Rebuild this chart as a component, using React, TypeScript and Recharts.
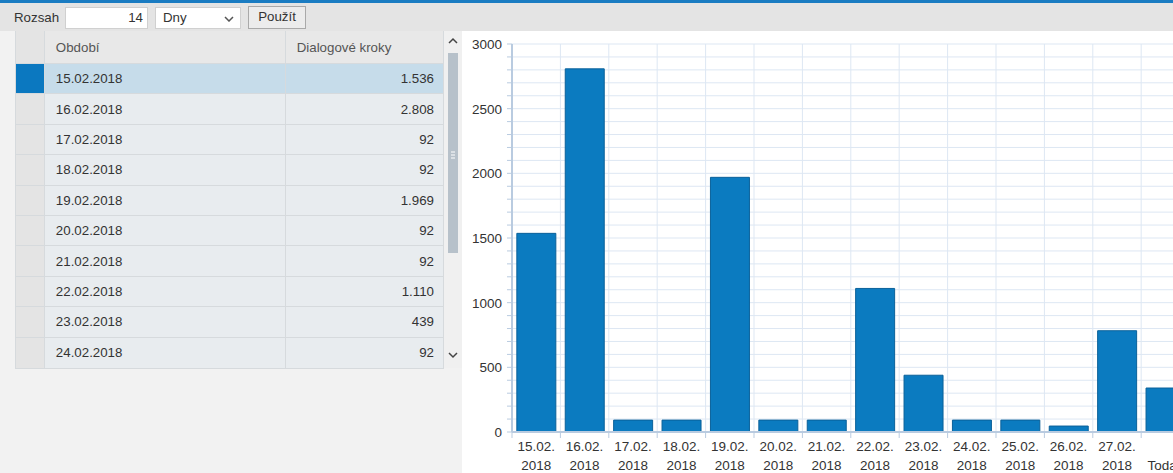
import React from 'react'
import { BarChart, Bar, XAxis, YAxis, CartesianGrid } from 'recharts'

const categories = [
  '15.02.2018', '16.02.2018', '17.02.2018', '18.02.2018', '19.02.2018',
  '20.02.2018', '21.02.2018', '22.02.2018', '23.02.2018', '24.02.2018',
  '25.02.2018', '26.02.2018', '27.02.2018', 'Today',
]
const dialogSteps = [1536, 2808, 92, 92, 1969, 92, 92, 1110, 439, 92, 92, 46, 783, 340]

// table shows only the first 10 rows (scrolled)
const tableDates = categories.slice(0, 10)
const tableValues = ['1.536', '2.808', '92', '92', '1.969', '92', '92', '1.110', '439', '92']

const yTicks = [
  0, 100, 200, 300, 400, 500, 600, 700, 800, 900, 1000, 1100, 1200, 1300, 1400, 1500,
  1600, 1700, 1800, 1900, 2000, 2100, 2200, 2300, 2400, 2500, 2600, 2700, 2800, 2900, 3000,
]
const yLabelStep = 500

const data = categories.map((c, i) => ({ name: c, value: dialogSteps[i] }))

const FONT = 'Arial, "Liberation Sans", sans-serif'
const AXIS_FS = 13.5
const CAT_W = 48.4
const Y_AXIS_W = 50
const CHART_W = Y_AXIS_W + CAT_W * categories.length
const CHART_H = 442

const YTick = (props: any) => {
  const { x, y, payload } = props
  if (payload.value % yLabelStep !== 0) return null
  return (
    <text x={x - 3} y={y + 5} textAnchor="end" fontSize={AXIS_FS} fill="#333" fontFamily={FONT}>
      {payload.value}
    </text>
  )
}

const XTick = (props: any) => {
  const { x, y, payload } = props
  const label: string = payload.value
  const lines = label.length === 10 ? [label.slice(0, 6), label.slice(6)] : [label]
  const bx = x - CAT_W / 2
  return (
    <g>
      <line x1={bx} x2={bx} y1={y - 8} y2={y - 2} stroke="#b9cbe0" />
      {lines.length === 2 ? (
        <>
          <text x={x} y={y + 11} textAnchor="middle" fontSize={AXIS_FS} fill="#333" fontFamily={FONT}>{lines[0]}</text>
          <text x={x} y={y + 30} textAnchor="middle" fontSize={AXIS_FS} fill="#333" fontFamily={FONT}>{lines[1]}</text>
        </>
      ) : (
        <text x={x} y={y + 30} textAnchor="middle" fontSize={AXIS_FS} fill="#333" fontFamily={FONT}>{lines[0]}</text>
      )}
    </g>
  )
}

export default function App() {
  const cell: React.CSSProperties = {
    boxSizing: 'border-box',
    borderRight: '1px solid #d6dadd',
    display: 'flex',
    alignItems: 'center',
  }

  return (
    <div style={{ position: 'absolute', left: 0, top: 0, width: 1173, height: 473, overflow: 'hidden', background: '#f2f2f2', fontFamily: FONT, fontSize: 13.3, color: '#333' }}>
      {/* top bar */}
      <div style={{ position: 'absolute', left: 0, top: 0, width: 1173, height: 3, background: '#1a7cc2' }} />
      <div style={{ position: 'absolute', left: 0, top: 3, width: 1173, height: 28, background: '#e4e4e4' }} />
      <div style={{ position: 'absolute', left: 14, top: 10 }}>Rozsah</div>
      <div style={{ position: 'absolute', left: 65, top: 7, width: 83, height: 22, boxSizing: 'border-box', background: '#fff', border: '1px solid #d0d0d0', textAlign: 'right', paddingRight: 4, lineHeight: '20px' }}>14</div>
      <div style={{ position: 'absolute', left: 155, top: 7, width: 86, height: 22, boxSizing: 'border-box', background: '#fff', border: '1px solid #d0d0d0', paddingLeft: 7, lineHeight: '20px' }}>
        Dny
        <svg width={10} height={6} style={{ position: 'absolute', right: 6, top: 8 }}>
          <polyline points="1,1 5,5 9,1" fill="none" stroke="#555" strokeWidth={1.5} />
        </svg>
      </div>
      <div style={{ position: 'absolute', left: 248, top: 6, width: 58, height: 23, boxSizing: 'border-box', background: '#ececec', border: '1px solid #a9a9a9', textAlign: 'center', lineHeight: '20px' }}>Použít</div>

      {/* table */}
      <div style={{ position: 'absolute', left: 15, top: 31, width: 429, border: '1px solid #d6dadd', borderTop: 'none', boxSizing: 'border-box' }}>
        <div style={{ display: 'flex', height: 33, background: '#e8e8e8', borderBottom: '1px solid #d6dadd', boxSizing: 'border-box', color: '#555' }}>
          <div style={{ ...cell, width: 29, background: '#e4e4e4' }} />
          <div style={{ ...cell, width: 242, paddingLeft: 11 }}>Období</div>
          <div style={{ ...cell, width: 158, paddingLeft: 11, borderRight: 'none' }}>Dialogové kroky</div>
        </div>
        {tableDates.map((d, i) => {
          const sel = i === 0
          return (
            <div key={d} style={{ display: 'flex', height: 30.4, background: sel ? '#c6dcea' : '#e8ecef', borderBottom: i < 9 ? '1px solid #d6dadd' : 'none', boxSizing: 'border-box' }}>
              <div style={{ ...cell, width: 29, background: sel ? '#0b78c0' : '#e4e4e4' }} />
              <div style={{ ...cell, width: 242, paddingLeft: 11 }}>{d}</div>
              <div style={{ ...cell, width: 158, paddingRight: 9, justifyContent: 'flex-end', borderRight: 'none' }}>{tableValues[i]}</div>
            </div>
          )
        })}
      </div>
      {/* scrollbar */}
      <div style={{ position: 'absolute', left: 444, top: 31, width: 18, height: 337, background: '#f0f0f0' }}>
        <svg width={18} height={337}>
          <polyline points="5,12 9,8 13,12" fill="none" stroke="#444" strokeWidth={1.5} />
          <rect x={4} y={22} width={10} height={200} fill="#b7c1ca" />
          <line x1={7} x2={11} y1={121} y2={121} stroke="#fff" />
          <line x1={7} x2={11} y1={124} y2={124} stroke="#fff" />
          <line x1={7} x2={11} y1={127} y2={127} stroke="#fff" />
          <polyline points="5,322 9,326 13,322" fill="none" stroke="#444" strokeWidth={1.5} />
        </svg>
      </div>

      {/* chart */}
      <div style={{ position: 'absolute', left: 462, top: 31, width: 711, height: 442, background: '#fff', overflow: 'hidden' }}>
        <BarChart
          width={CHART_W}
          height={CHART_H}
          data={data}
          margin={{ top: 13, right: 0, bottom: 0, left: 0 }}
          barCategoryGap="10%"
        >
          <CartesianGrid
            stroke="#dde7f3"
            verticalCoordinatesGenerator={({ offset }: any) =>
              categories.map((_, i) => offset.left + (i * offset.width) / categories.length).slice(1)
            }
          />
          <YAxis
            domain={[0, 3000]}
            ticks={yTicks}
            interval={0}
            width={Y_AXIS_W}
            tickSize={5}
            tick={<YTick />}
            stroke="#b9cbe0"
            axisLine={{ stroke: '#b9cbe0', strokeWidth: 2 }}
            tickLine={{ stroke: '#b9cbe0' }}
          />
          <XAxis
            dataKey="name"
            height={41}
            interval={0}
            tickLine={false}
            axisLine={{ stroke: '#b9cbe0', strokeWidth: 2 }}
            tick={<XTick />}
          />
          <Bar dataKey="value" fill="#0b7bc0" stroke="#0a609a" strokeWidth={1} isAnimationActive={false} />
        </BarChart>
      </div>
    </div>
  )
}
